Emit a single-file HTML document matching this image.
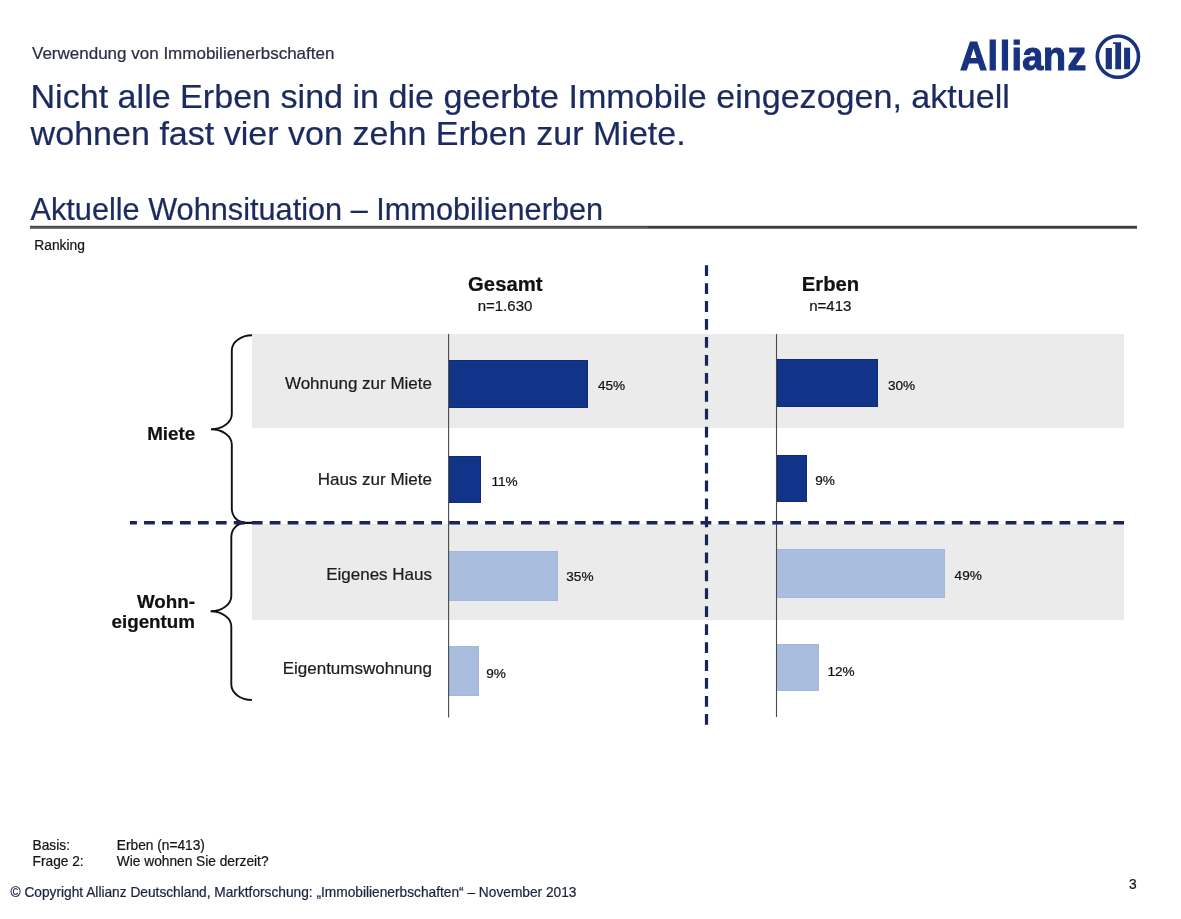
<!DOCTYPE html>
<html lang="de"><head><meta charset="utf-8"><title>Verwendung von Immobilienerbschaften</title>
<style>
html,body{margin:0;padding:0;background:#fff;}
body{width:1181px;height:919px;position:relative;overflow:hidden;font-family:"Liberation Sans",sans-serif;color:#151515;}
.a{position:absolute;white-space:nowrap;line-height:1;-webkit-text-stroke:0.22px currentColor;}
.navy{color:#1b2a5f;}
.band{position:absolute;left:252px;width:872px;background:#ebebeb;}
.bar{position:absolute;box-sizing:border-box;}
.d{background:#123488;border:1px solid #0f2c78;}
.l{background:#a9bddf;border:1px solid #a3b7da;}
.lab{font-size:17px;color:#1c1c1c;text-align:right;width:200px;left:232px;}
.pct{font-size:13.6px;color:#111;}
.grp{font-size:18.8px;font-weight:bold;color:#111;}
.hd{font-size:20.3px;font-weight:bold;color:#111;width:200px;text-align:center;}
.sub{font-size:15px;color:#151515;width:200px;text-align:center;}
.ft{font-size:13.72px;line-height:15.75px;color:#151515;}
</style></head><body>
<div class="a" style="left:32px;top:45px;font-size:17px;color:#2b2f42;">Verwendung von Immobilienerbschaften</div>
<div class="a navy" style="left:30.5px;top:77.9px;font-size:34.08px;line-height:37px;">Nicht alle Erben sind in die geerbte Immobile eingezogen, aktuell</div>
<div class="a navy" style="left:30.6px;top:114.8px;font-size:34.07px;line-height:37px;">wohnen fast vier von zehn Erben zur Miete.</div>
<div class="a navy" style="left:30.5px;top:194.9px;font-size:30.7px;">Aktuelle Wohnsituation – Immobilienerben</div>
<div class="a" style="left:34.3px;top:239.1px;font-size:13.8px;">Ranking</div>

<!-- logo -->
<svg class="a" id="logo" style="left:950px;top:25px" width="140" height="55" viewBox="950 25 140 55"><text transform="scale(0.94,1)" y="69.6" x="1021.28 1050.53 1063.62 1076.06 1087.45 1109.47 1135.74" font-family="Liberation Sans, sans-serif" font-weight="bold" font-size="40.0" fill="#17327f" stroke="#17327f" stroke-width="1.15">Allianz</text></svg>
<svg class="a" style="left:1090px;top:28px" width="56" height="56" viewBox="1090 28 56 56"><circle cx="1117.9" cy="56.6" r="20.6" fill="none" stroke="#17327f" stroke-width="3.6"/><rect x="1105.7" y="48" width="6.2" height="21.2" fill="#17327f"/><path d="M1113 42.2H1121.1V69.2H1115.3V44.1H1113Z" fill="#17327f"/><rect x="1124.1" y="47.7" width="6" height="21.5" fill="#17327f"/></svg>

<!-- chart -->
<div class="band" style="top:334px;height:94.3px;"></div>
<div class="band" style="top:524px;height:95.6px;"></div>

<div class="a hd" style="left:405.3px;top:273.6px;">Gesamt</div>
<div class="a sub" style="left:405px;top:298px;">n=1.630</div>
<div class="a hd" style="left:730.5px;top:273.6px;">Erben</div>
<div class="a sub" style="left:730.3px;top:298px;">n=413</div>

<div class="a lab" style="top:375px;">Wohnung zur Miete</div>
<div class="a lab" style="top:471.2px;">Haus zur Miete</div>
<div class="a lab" style="top:566px;">Eigenes Haus</div>
<div class="a lab" style="top:660px;">Eigentumswohnung</div>

<div class="a grp" style="left:147.2px;top:425.1px;">Miete</div>
<div class="a grp" style="left:95px;width:100px;text-align:right;top:592.3px;line-height:20px;">Wohn-<br>eigentum</div>

<div class="bar d" style="left:449px;top:360px;width:138.5px;height:47.5px;"></div>
<div class="bar d" style="left:449px;top:456px;width:32px;height:47px;"></div>
<div class="bar l" style="left:448px;top:550.7px;width:110px;height:50px;"></div>
<div class="bar l" style="left:448px;top:646px;width:31px;height:49.8px;"></div>
<div class="bar d" style="left:777px;top:359px;width:100.5px;height:47.6px;"></div>
<div class="bar d" style="left:777px;top:455px;width:29.8px;height:47.4px;"></div>
<div class="bar l" style="left:776px;top:549px;width:168.7px;height:49px;"></div>
<div class="bar l" style="left:776px;top:644px;width:43px;height:47.4px;"></div>

<div class="a pct" style="left:598px;top:378.6px;">45%</div>
<div class="a pct" style="left:491.5px;top:474.8px;">11%</div>
<div class="a pct" style="left:566.3px;top:570.3px;">35%</div>
<div class="a pct" style="left:486.3px;top:666.6px;">9%</div>
<div class="a pct" style="left:888px;top:378.6px;">30%</div>
<div class="a pct" style="left:815.3px;top:473.7px;">9%</div>
<div class="a pct" style="left:954.6px;top:569px;">49%</div>
<div class="a pct" style="left:827.5px;top:664.5px;">12%</div>

<svg class="a" style="left:0;top:0" width="1181" height="919" viewBox="0 0 1181 919">
<defs><linearGradient id="ug" x1="0" y1="0" x2="0" y2="1"><stop offset="0" stop-color="#3c3c3c"/><stop offset="1" stop-color="#707070"/></linearGradient></defs>
<rect x="30" y="225.8" width="618" height="3.1" fill="url(#ug)"/>
<rect x="648" y="225.8" width="489" height="2.9" fill="#3e3e3e"/>
<line x1="448.6" y1="334" x2="448.6" y2="717.5" stroke="#4a4a4a" stroke-width="1.1"/>
<line x1="776.5" y1="334" x2="776.5" y2="717" stroke="#4a4a4a" stroke-width="1.1"/>
<path d="M252 335.2 A20.2 15.3 0 0 0 231.8 350.5 L231.8 413.9 A20.8 15.3 0 0 1 211 429.2 A20.8 15.3 0 0 1 231.8 444.5 L231.8 508.6 A13.2 14 0 0 0 245 522.6 L252 522.6" fill="none" stroke="#111" stroke-width="1.9"/>
<path d="M252 523 L244.5 523 A13.2 14 0 0 0 231.3 537 L231.3 596 A20.7 15.3 0 0 1 210.6 611.3 A20.7 15.3 0 0 1 231.3 626.6 L231.3 684.6 A20.7 15.3 0 0 0 252 699.9" fill="none" stroke="#111" stroke-width="1.9"/>
<line x1="706.5" y1="265.2" x2="706.5" y2="724.7" stroke="#18245a" stroke-width="3.2" stroke-dasharray="10.8 7.15"/>
<line x1="130" y1="522.8" x2="1124" y2="522.8" stroke="#18245a" stroke-width="3.4" stroke-dasharray="10.8 7.15" stroke-dashoffset="3.9"/>
</svg>

<div class="a ft" style="left:32.6px;top:838.4px;">Basis:<br>Frage 2:</div>
<div class="a ft" style="left:116.8px;top:838.4px;">Erben (n=413)<br>Wie wohnen Sie derzeit?</div>
<div class="a" style="left:10.5px;top:885.7px;font-size:13.72px;color:#1c2340;">© Copyright Allianz Deutschland, Marktforschung: „Immobilienerbschaften“ – November 2013</div>
<div class="a" style="left:1129px;top:878px;font-size:13.8px;">3</div>
</body></html>
